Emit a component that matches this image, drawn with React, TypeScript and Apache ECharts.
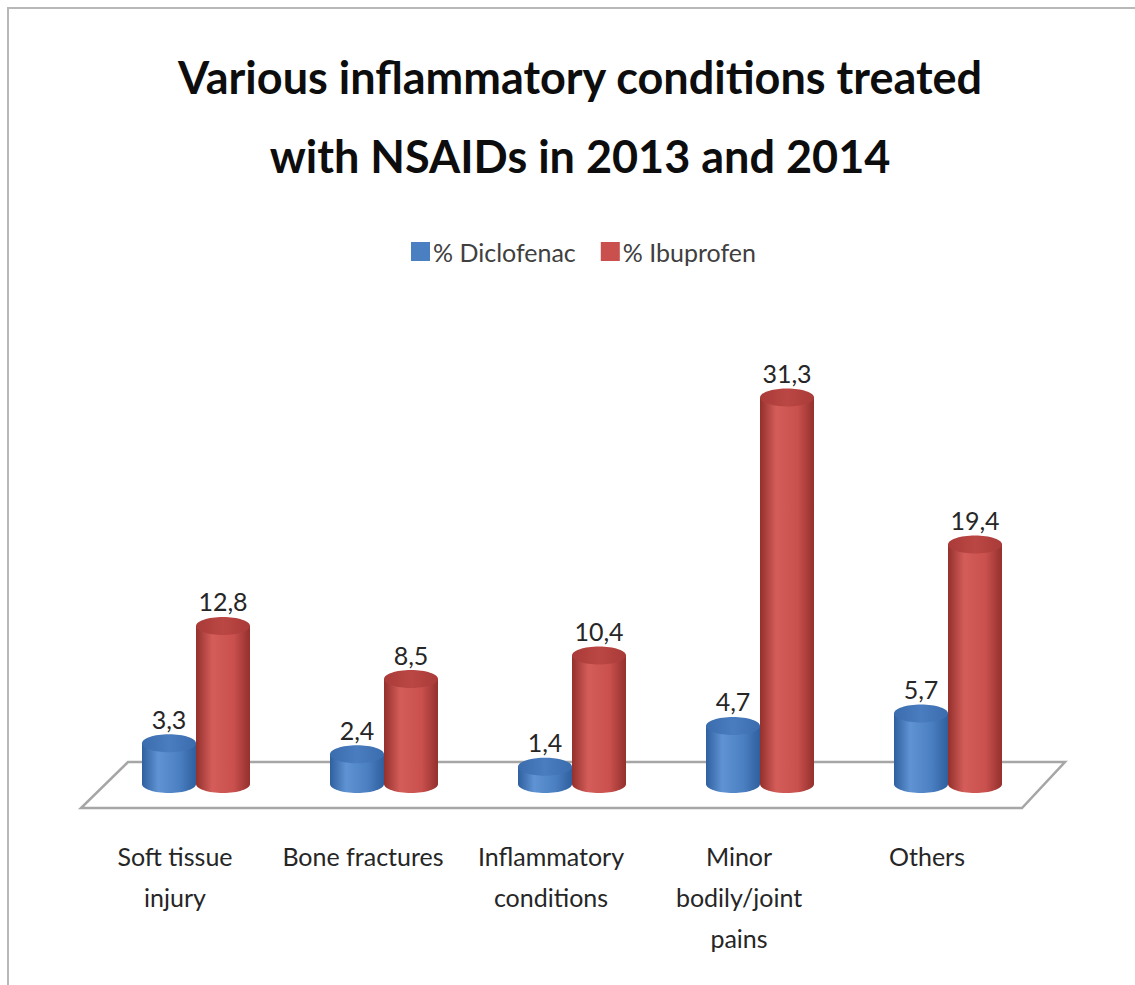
import React, { useEffect, useRef } from "react";
import * as echarts from "echarts";

const categories = [
  "Soft tissue\ninjury",
  "Bone fractures",
  "Inflammatory\nconditions",
  "Minor\nbodily/joint\npains",
  "Others",
];
const diclofenac = [3.3, 2.4, 1.4, 4.7, 5.7];
const ibuprofen = [12.8, 8.5, 10.4, 31.3, 19.4];
const seriesNames = ["% Diclofenac", "% Ibuprofen"];
const titleText = "Various inflammatory conditions treated\nwith NSAIDs in 2013 and 2014";

const FONT = "Lato, 'Open Sans', sans-serif";
const RX = 27;
const RY = 9;

const fmt = (v: number) => v.toFixed(1).replace(".", ",");

function makeCylinder(offset: number, palette: { m: string; h: string; d: string; top: string; topL: string }) {
  return (params: any, api: any) => {
    const idx = api.value(0);
    const val = api.value(1);
    const top = api.coord([idx, val]);
    const base = api.coord([idx, 0]);
    const cx = top[0] + offset;
    const ty = top[1];
    const by = base[1];
    const bodyFill = new echarts.graphic.LinearGradient(0, 0, 1, 0, [
      { offset: 0, color: palette.d },
      { offset: 0.3, color: palette.h },
      { offset: 0.7, color: palette.m },
      { offset: 1, color: palette.d },
    ]);
    const topFill = new echarts.graphic.LinearGradient(0, 0, 1, 0, [
      { offset: 0, color: palette.top },
      { offset: 0.5, color: palette.topL },
      { offset: 1, color: palette.top },
    ]);
    return {
      type: "group",
      children: [
        { type: "ellipse", shape: { cx, cy: by, rx: RX, ry: RY }, style: { fill: bodyFill } },
        { type: "rect", shape: { x: cx - RX, y: ty, width: RX * 2, height: by - ty }, style: { fill: bodyFill } },
        { type: "ellipse", shape: { cx, cy: ty, rx: RX, ry: RY }, style: { fill: topFill } },
        {
          type: "text",
          x: cx,
          y: ty - RY - 3,
          style: {
            text: fmt(val),
            fill: "#262626",
            font: `25px ${FONT}`,
            align: "center",
            verticalAlign: "bottom",
          },
        },
      ],
    };
  };
}

const bluePal = { m: "#4a7fc1", h: "#5f93d3", d: "#2f5f9e", top: "#3a6cae", topL: "#4a7dbf" };
const redPal = { m: "#c9504d", h: "#d45d59", d: "#93302d", top: "#a93b38", topL: "#bb4744" };

export default function App() {
  const ref = useRef<HTMLDivElement>(null);
  useEffect(() => {
    document.body.style.margin = "0";
    const chart = echarts.init(ref.current!, null, { renderer: "svg" });
    chart.setOption({
      animation: false,
      backgroundColor: "#ffffff",
      title: {
        text: titleText,
        left: 575,
        textAlign: "center",
        top: 32,
        textStyle: {
          fontFamily: FONT,
          fontSize: 45,
          fontWeight: "bold",
          color: "#0d0d0d",
          lineHeight: 79,
        },
      },
      legend: {
        data: seriesNames,
        top: 234,
        left: 406,
        itemWidth: 19,
        itemHeight: 19,
        itemGap: 25,
        icon: "rect",
        textStyle: { fontFamily: FONT, fontSize: 25, color: "#404040", padding: [0, 0, 0, -2] },
      },
      graphic: [
        {
          type: "rect",
          shape: { x: 8, y: 8, width: 1140, height: 1000 },
          style: { fill: "none", stroke: "#b8b8b8", lineWidth: 2 },
          silent: true,
        },
      ],
      grid: { left: 102, width: 940, top: 290, height: 494 },
      xAxis: {
        type: "category",
        data: categories,
        axisLine: { show: false },
        axisTick: { show: false },
        splitLine: { show: false },
        axisLabel: {
          interval: 0,
          margin: 51,
          fontFamily: FONT,
          fontSize: 25,
          lineHeight: 41,
          color: "#262626",
          padding: [0, 42, 0, 0],
        },
      },
      yAxis: { type: "value", min: 0, max: 40, show: false },
      series: [
        {
          type: "custom",
          name: "floor",
          silent: true,
          z: 1,
          data: [[0, 0]],
          renderItem: (params: any, api: any) => {
            const cs = params.coordSys;
            const z = api.coord([0, 0])[1];
            const gl = cs.x;
            const gr = cs.x + cs.width;
            return {
              type: "polygon",
              shape: {
                points: [
                  [gl + 26, z - 22],
                  [gr + 23, z - 22],
                  [gr - 20, z + 24],
                  [gl - 21, z + 24],
                ],
              },
              style: { fill: "#ffffff", stroke: "#a6a6a6", lineWidth: 2.5 },
            };
          },
        },
        {
          type: "custom",
          name: seriesNames[0],
          z: 2,
          itemStyle: { color: "#4a7fc1" },
          data: categories.map((_, i) => [i, diclofenac[i]]),
          renderItem: makeCylinder(-RX, bluePal),
        },
        {
          type: "custom",
          name: seriesNames[1],
          z: 3,
          itemStyle: { color: "#c9504d" },
          data: categories.map((_, i) => [i, ibuprofen[i]]),
          renderItem: makeCylinder(RX, redPal),
        },
      ],
    });
    return () => chart.dispose();
  }, []);
  return <div ref={ref} style={{ width: 1135, height: 985 }} />;
}
